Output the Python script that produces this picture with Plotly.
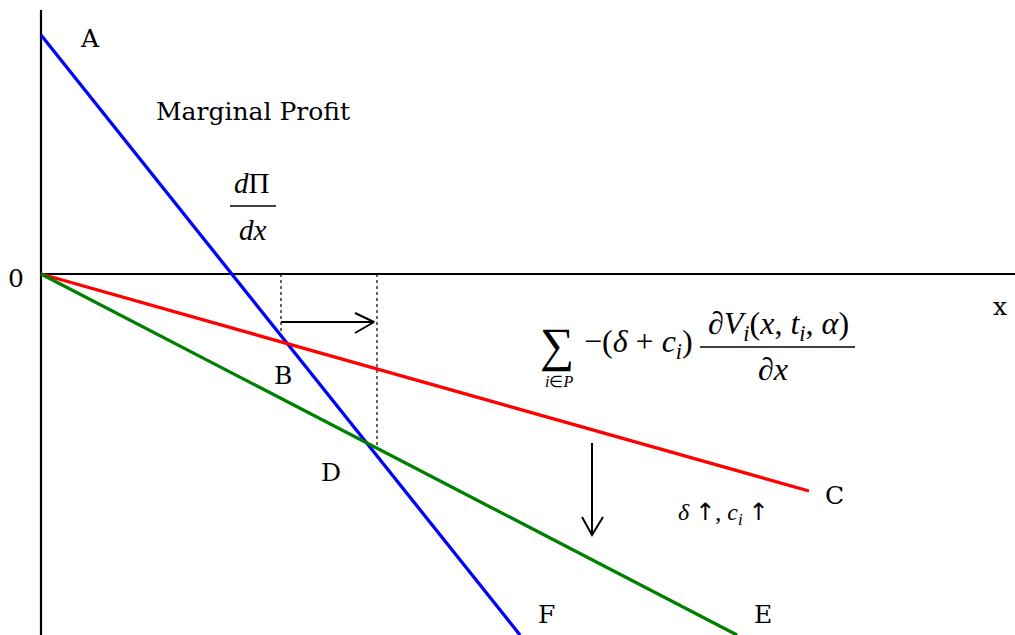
import plotly.graph_objects as go

# ---- data (chart units: origin at the axes crossing) ----
blue_x = [0, 479]
blue_y = [239, -361]
red_x = [0, 768]
red_y = [0, -217]
green_x = [0, 696]
green_y = [0, -361]

axis_v_x = [0, 0]
axis_v_y = [-361, 264]
axis_h_x = [0, 974]
axis_h_y = [0, 0]

dot1_x = [240, 240]
dot1_y = [0, -70]
dot2_x = [336, 336]
dot2_y = [0, -171]

harrow_x = [240, 333]
harrow_y = [-48, -48]
harrow_head_x = [314, 333, 314]
harrow_head_y = [-39, -48, -59]

varrow_x = [551, 551]
varrow_y = [-169, -261]
varrow_head_x = [541, 551, 562]
varrow_head_y = [-243, -261, -243]

label_text = ["A", "B", "C", "D", "E", "F", "0", "x", "Marginal Profit"]
label_x = [49, 242, 793, 290, 722, 505, -25, 959, 212]
label_y = [236, -101, -221, -198, -340, -340, -4, -32, 163]

SERIF = "DejaVu Serif"
MATH = "Liberation Serif"

fig = go.Figure()

def line(xs, ys, color, width, dash="solid"):
    fig.add_trace(go.Scatter(x=xs, y=ys, mode="lines",
                             line=dict(color=color, width=width, dash=dash),
                             hoverinfo="skip", showlegend=False))

line(axis_v_x, axis_v_y, "black", 2.2)
line(axis_h_x, axis_h_y, "black", 2.2)
line(dot1_x, dot1_y, "black", 1.2, "dot")
line(dot2_x, dot2_y, "black", 1.2, "dot")
line(blue_x, blue_y, "#0000ff", 3.3)
line(red_x, red_y, "#ff0000", 3.3)
line(green_x, green_y, "#008000", 3.3)
line(harrow_x, harrow_y, "black", 2)
line(harrow_head_x, harrow_head_y, "black", 2)
line(varrow_x, varrow_y, "black", 2)
line(varrow_head_x, varrow_head_y, "black", 2)

def text(x, y, s, size, family=SERIF):
    fig.add_annotation(x=x, y=y, text=s, showarrow=False, xanchor="center",
                       yanchor="middle", font=dict(family=family, size=size, color="black"))

for t, x, y in zip(label_text, label_x, label_y):
    text(x, y, t, 25)

# dΠ/dx
text(211, 91, "<i>d</i>Π", 29, MATH)
line([189, 235], [68, 68], "black", 1.5)
text(212, 44, "<i>dx</i>", 29, MATH)

# summation formula
text(516, -71, "∑", 48, MATH)
text(518, -107, "<i>i</i>∈<i>P</i>", 16, MATH)
text(597, -69, "−(<i>δ</i> + <i>c</i><sub><i>i</i></sub>)", 32, MATH)
text(737, -51, "<i>∂V</i><sub><i>i</i></sub>(<i>x</i>, <i>t</i><sub><i>i</i></sub>, <i>α</i>)", 32, MATH)
line([659, 814], [-73, -73], "black", 1.5)
text(732, -95, "<i>∂x</i>", 32, MATH)

# delta up, c up
UP = '<span style="font-family:DejaVu Sans">↑</span>'
text(682, -239, f"<i>δ</i> {UP}, <i>c</i><sub><i>i</i></sub> {UP}", 24, MATH)

fig.update_layout(
    width=1015, height=635,
    margin=dict(l=0, r=0, t=0, b=0),
    paper_bgcolor="white", plot_bgcolor="white",
    xaxis=dict(range=[-41, 974], visible=False, fixedrange=True),
    yaxis=dict(range=[-361, 274], visible=False, fixedrange=True),
)

fig.write_html("out.html", config={"displayModeBar": False},
               post_script="document.body.style.margin='0';")
